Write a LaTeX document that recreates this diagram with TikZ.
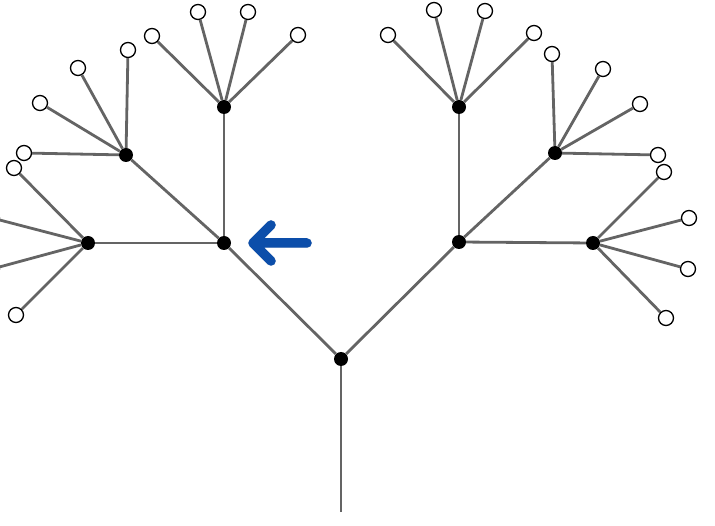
\documentclass[tikz,border=0pt]{standalone}
\usetikzlibrary{arrows.meta}
\definecolor{edgegray}{RGB}{100,100,100}
\definecolor{arrowblue}{RGB}{12,78,170}
\begin{document}
\begin{tikzpicture}[x=1pt,y=-1pt,
  inner/.style={circle,fill=black,inner sep=0pt,minimum size=14pt},
  leaf/.style={circle,draw=black,fill=white,line width=1.3pt,inner sep=0pt,minimum size=15pt},
  branch/.style={draw=edgegray,line width=2.8pt},
  pointer/.style={line width=9.5pt,line cap=round,line join=round}]
\useasboundingbox (0,0) rectangle (715,526);
\clip (0,0) rectangle (715,526);

% branching points
\node[inner] (root) at (341,359) {};
\node[inner] (L) at (224,243) {};
\node[inner] (R) at (459,242) {};
\node[inner] (LL) at (88,243) {};
\node[inner] (LU) at (224,107) {};
\node[inner] (LD) at (126,155) {};
\node[inner] (RU) at (459,107) {};
\node[inner] (RD) at (555,153) {};
\node[inner] (RR) at (593,243) {};
\coordinate (base) at (341,512);

% leaves
\node[leaf] (lu1) at (152,36) {};
\node[leaf] (lu2) at (198,12) {};
\node[leaf] (lu3) at (248,12) {};
\node[leaf] (lu4) at (298,35) {};
\node[leaf] (ld1) at (128,50) {};
\node[leaf] (ld2) at (78,68) {};
\node[leaf] (ld3) at (40,103) {};
\node[leaf] (ld4) at (24,153) {};
\node[leaf] (ll1) at (14,168) {};
\node[leaf] (ll2) at (-8,218) {};
\node[leaf] (ll3) at (-8,269) {};
\node[leaf] (ll4) at (16,315) {};
\node[leaf] (ru1) at (388,35) {};
\node[leaf] (ru2) at (434,10) {};
\node[leaf] (ru3) at (485,11) {};
\node[leaf] (ru4) at (534,33) {};
\node[leaf] (rd1) at (552,54) {};
\node[leaf] (rd2) at (603,69) {};
\node[leaf] (rd3) at (640,104) {};
\node[leaf] (rd4) at (658,155) {};
\node[leaf] (rr1) at (664,172) {};
\node[leaf] (rr2) at (689,218) {};
\node[leaf] (rr3) at (688,269) {};
\node[leaf] (rr4) at (666,318) {};

% branches
\draw[branch] (base) -- (root);
\draw[branch] (root) -- (L);
\draw[branch] (root) -- (R);
\draw[branch] (L) -- (LL);
\draw[branch] (L) -- (LU);
\draw[branch] (L) -- (LD);
\draw[branch] (R) -- (RU);
\draw[branch] (R) -- (RD);
\draw[branch] (R) -- (RR);
\foreach \p/\c in {LU/lu1,LU/lu2,LU/lu3,LU/lu4,LD/ld1,LD/ld2,LD/ld3,LD/ld4,
                   LL/ll1,LL/ll2,LL/ll3,LL/ll4,RU/ru1,RU/ru2,RU/ru3,RU/ru4,
                   RD/rd1,RD/rd2,RD/rd3,RD/rd4,RR/rr1,RR/rr2,RR/rr3,RR/rr4}
  \draw[branch] (\p) -- (\c);

% pointer arrow with soft shadow
\coordinate (tip) at (253,243);
\coordinate (tail) at (307,243);
\coordinate (wingA) at (271,225);
\coordinate (wingB) at (271,261);
\draw[pointer,black,opacity=0.18,shift={(2,3)}] (tail) -- (tip) (wingA) -- (tip) -- (wingB);
\draw[pointer,arrowblue] (tail) -- (tip) (wingA) -- (tip) -- (wingB);
\end{tikzpicture}
\end{document}
